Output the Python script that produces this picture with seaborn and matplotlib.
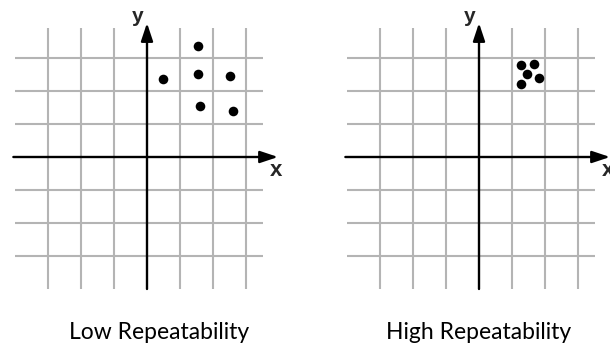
import matplotlib
matplotlib.use("Agg")
import matplotlib.pyplot as plt
import seaborn as sns
import pandas as pd

# grid positions (units) and measurements for each panel
grid_ticks = [-3, -2, -1, 1, 2, 3]

low_x = [0.48, 1.54, 1.54, 2.52, 1.62, 2.60]
low_y = [2.35, 3.36, 2.52, 2.45, 1.55, 1.39]

high_x = [1.26, 1.67, 1.46, 1.83, 1.26]
high_y = [2.79, 2.81, 2.51, 2.40, 2.20]

titles = ["Low Repeatability", "High Repeatability"]

sns.set_theme(style="white")
plt.rcParams['font.family'] = ['Lato', 'DejaVu Sans']

fig = plt.figure(figsize=(6.10, 3.52), dpi=100)
W, H = 610, 352
unit = 33.0


def draw_panel(left_px, right_px, origin_px, xs, ys, title, title_dx):
    ox, oy = origin_px
    ax = fig.add_axes([left_px / W, 0, (right_px - left_px) / W, 1])
    ax.set_xlim((left_px - ox) / unit, (right_px - ox) / unit)
    ax.set_ylim((oy - H) / unit, oy / unit)
    ax.axis("off")

    # grid
    ax.vlines(grid_ticks, -4.0, 3.9, color="#b4b4b4", lw=1.5, zorder=1)
    ax.hlines(grid_ticks, -4.0, 3.5, color="#b4b4b4", lw=1.5, zorder=1)

    # axes with arrows
    ax.annotate("", xy=(3.97, 0), xytext=(-4.05, 0),
                arrowprops=dict(arrowstyle="-|>,head_length=0.9,head_width=0.3",
                                lw=1.7, color="black", shrinkA=0, shrinkB=0),
                zorder=2, annotation_clip=False)
    ax.annotate("", xy=(0, 4.06), xytext=(0, -4.0),
                arrowprops=dict(arrowstyle="-|>,head_length=0.9,head_width=0.3",
                                lw=1.7, color="black", shrinkA=0, shrinkB=0),
                zorder=2, annotation_clip=False)
    ax.text(3.92, -0.42, "x", ha="center", va="center", fontsize=16,
            fontweight="bold", family=["Liberation Sans"], clip_on=False)
    ax.text(-0.27, 4.27, "y", ha="center", va="center", fontsize=15,
            fontweight="bold", family=["Liberation Sans"], clip_on=False)

    df = pd.DataFrame({"x": xs, "y": ys})
    sns.scatterplot(data=df, x="x", y="y", ax=ax, color="black", s=48,
                    edgecolor="black", linewidth=0, zorder=3, legend=False)
    ax.set_xlabel("")
    ax.set_ylabel("")

    ax.text(title_dx, (oy - 333) / unit, title, ha="center", va="center",
            fontsize=16.5, color="black")
    return ax


draw_panel(0, 305, (147, 157), low_x, low_y, titles[0], 0.36)
draw_panel(305, 610, (479, 157), high_x, high_y, titles[1], 0.0)

fig.savefig("out.png", dpi=100, facecolor="white")
